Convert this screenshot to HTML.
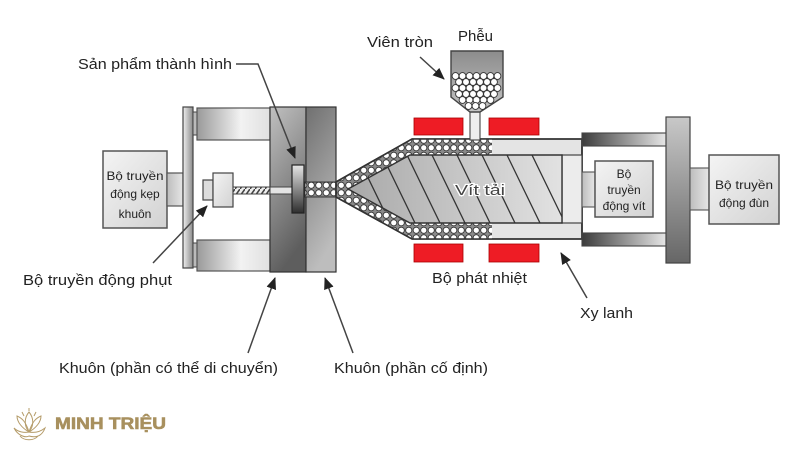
<!DOCTYPE html>
<html><head><meta charset="utf-8"><style>
html,body{margin:0;padding:0;background:#fff;}
svg{display:block;}
text{font-family:"Liberation Sans",Arial,sans-serif;fill:#222;}
</style></head><body>
<svg width="800" height="450" viewBox="0 0 800 450" xmlns="http://www.w3.org/2000/svg">
<defs>
<linearGradient id="box" x1="0" y1="0" x2="1" y2="1"><stop offset="0" stop-color="#f4f4f4"/><stop offset="1" stop-color="#d2d2d2"/></linearGradient>
<linearGradient id="conn" x1="0" y1="0" x2="1" y2="0"><stop offset="0" stop-color="#bdbdbd"/><stop offset="1" stop-color="#e6e6e6"/></linearGradient>
<linearGradient id="plateL" x1="0" y1="0" x2="1" y2="0"><stop offset="0" stop-color="#f0f0f0"/><stop offset="1" stop-color="#8a8a8a"/></linearGradient>
<linearGradient id="bar" x1="0" y1="0" x2="1" y2="0"><stop offset="0" stop-color="#9a9a9a"/><stop offset="0.6" stop-color="#f2f2f2"/><stop offset="1" stop-color="#e0e0e0"/></linearGradient>
<linearGradient id="moldM" x1="0" y1="0" x2="0.3" y2="1"><stop offset="0" stop-color="#c0c0c0"/><stop offset="1" stop-color="#5e5e5e"/></linearGradient>
<linearGradient id="moldF" x1="0" y1="0" x2="0.3" y2="1"><stop offset="0" stop-color="#707070"/><stop offset="1" stop-color="#bdbdbd"/></linearGradient>
<linearGradient id="prod" x1="0" y1="0" x2="0" y2="1"><stop offset="0" stop-color="#e6e6e6"/><stop offset="1" stop-color="#2e2e2e"/></linearGradient>
<linearGradient id="rod" x1="0" y1="0" x2="1" y2="0"><stop offset="0" stop-color="#3c3c3c"/><stop offset="1" stop-color="#e8e8e8"/></linearGradient>
<linearGradient id="plateR" x1="0" y1="0" x2="0" y2="1"><stop offset="0" stop-color="#c8c8c8"/><stop offset="1" stop-color="#666"/></linearGradient>
<linearGradient id="screw" x1="0" y1="0" x2="1" y2="0"><stop offset="0" stop-color="#a8a8a8"/><stop offset="1" stop-color="#e2e2e2"/></linearGradient>
<linearGradient id="hop" x1="0" y1="0" x2="0" y2="1"><stop offset="0" stop-color="#8c8c8c"/><stop offset="1" stop-color="#c4c4c4"/></linearGradient>
<pattern id="pel" width="7.5" height="7.5" patternUnits="userSpaceOnUse" x="0" y="1.5">
<rect width="7.5" height="7.5" fill="#8a8a8a"/>
<circle cx="3.75" cy="3.75" r="3.1" fill="#fff" stroke="#333" stroke-width="0.9"/>
</pattern>
<pattern id="thread" width="5" height="7" patternUnits="userSpaceOnUse">
<rect width="5" height="7" fill="#eee"/>
<line x1="0" y1="7" x2="5" y2="0" stroke="#444" stroke-width="1.6"/>
</pattern>
<marker id="ah" markerWidth="12" markerHeight="10" refX="11" refY="5" orient="auto" markerUnits="userSpaceOnUse">
<path d="M0,0 L12,5 L0,10 Z" fill="#222"/>
</marker>
<clipPath id="screwClip"><polygon points="348,189 410,155 562,155 562,223 410,223"/></clipPath>
</defs>

<!-- Left box -->
<rect x="103" y="151" width="64" height="77" fill="url(#box)" stroke="#555" stroke-width="1.5"/>
<text x="135" y="180" font-size="12" text-anchor="middle" textLength="57" lengthAdjust="spacingAndGlyphs">Bộ truyền</text>
<text x="135" y="198" font-size="12" text-anchor="middle">động kẹp</text>
<text x="135" y="218" font-size="12" text-anchor="middle">khuôn</text>
<rect x="167" y="173" width="16" height="33" fill="url(#conn)" stroke="#555" stroke-width="1.2"/>

<!-- Left plate & stubs -->
<rect x="183" y="107" width="10" height="161" fill="url(#plateL)" stroke="#444" stroke-width="1.2"/>
<rect x="193" y="112" width="4" height="23" fill="#bbb" stroke="#444" stroke-width="1"/>
<rect x="193" y="243" width="4" height="24" fill="#bbb" stroke="#444" stroke-width="1"/>
<rect x="197" y="108" width="73" height="32" fill="url(#bar)" stroke="#555" stroke-width="1.2"/>
<rect x="197" y="240" width="73" height="31" fill="url(#bar)" stroke="#555" stroke-width="1.2"/>

<!-- Ejector -->
<rect x="203" y="180" width="10" height="20" fill="#ddd" stroke="#444" stroke-width="1.2"/>
<rect x="213" y="173" width="20" height="34" fill="url(#box)" stroke="#444" stroke-width="1.2"/>
<rect x="233" y="187" width="37" height="7" fill="url(#thread)" stroke="#444" stroke-width="1"/>

<!-- Molds -->
<rect x="270" y="107" width="36" height="165" fill="url(#moldM)" stroke="#333" stroke-width="1.2"/>
<rect x="306" y="107" width="30" height="165" fill="url(#moldF)" stroke="#333" stroke-width="1.2"/>
<rect x="270" y="187" width="22" height="7" fill="#e4e4e4" stroke="#444" stroke-width="1"/>
<rect x="292" y="165" width="12" height="48" fill="url(#prod)" stroke="#222" stroke-width="1.2"/>
<rect x="305" y="182" width="32" height="15" fill="url(#pel)" stroke="#333" stroke-width="1"/>

<!-- Barrel -->
<polygon points="336,182 412,139 582,139 582,239 412,239 336,197" fill="#e4e4e4" stroke="#333" stroke-width="1.6"/>
<polygon points="336,182 412,139 492,139 492,239 412,239 336,197" fill="url(#pel)"/>
<polygon points="336,182 412,139 582,139 582,239 412,239 336,197" fill="none" stroke="#333" stroke-width="1.6"/>
<rect x="562" y="155" width="20" height="68" fill="#ececec" stroke="#444" stroke-width="1.2"/>
<polygon points="348,189 410,155 562,155 562,223 410,223" fill="url(#screw)" stroke="#333" stroke-width="1.4"/>
<g clip-path="url(#screwClip)" stroke="#333" stroke-width="1.3">
<line x1="332" y1="155" x2="365" y2="223"/>
<line x1="357" y1="155" x2="390" y2="223"/>
<line x1="382" y1="155" x2="415" y2="223"/>
<line x1="407" y1="155" x2="440" y2="223"/>
<line x1="432" y1="155" x2="465" y2="223"/>
<line x1="457" y1="155" x2="490" y2="223"/>
<line x1="482" y1="155" x2="515" y2="223"/>
<line x1="507" y1="155" x2="540" y2="223"/>
<line x1="532" y1="155" x2="565" y2="223"/>
</g>
<text x="480" y="195" font-size="15" text-anchor="middle" stroke="#fff" stroke-width="2.2" paint-order="stroke" style="fill:#444" textLength="50" lengthAdjust="spacingAndGlyphs">Vít tải</text>

<!-- Heaters -->
<rect x="414" y="118" width="49" height="17" fill="#ee1c25" stroke="#a00" stroke-width="0.8"/>
<rect x="489" y="118" width="50" height="17" fill="#ee1c25" stroke="#a00" stroke-width="0.8"/>
<rect x="414" y="244" width="49" height="18" fill="#ee1c25" stroke="#a00" stroke-width="0.8"/>
<rect x="489" y="244" width="50" height="18" fill="#ee1c25" stroke="#a00" stroke-width="0.8"/>

<!-- Hopper -->
<rect x="470" y="110" width="10" height="30" fill="#eee" stroke="#444" stroke-width="1.1"/>
<polygon points="451,51 503,51 503,97 480,112 470,112 451,97" fill="url(#hop)" stroke="#444" stroke-width="1.4"/>
<g fill="#fff" stroke="#333" stroke-width="0.9">
<circle cx="455.5" cy="76" r="3.4"/><circle cx="462.5" cy="76" r="3.4"/><circle cx="469.5" cy="76" r="3.4"/><circle cx="476.5" cy="76" r="3.4"/><circle cx="483.5" cy="76" r="3.4"/><circle cx="490.5" cy="76" r="3.4"/><circle cx="497.5" cy="76" r="3.4"/>
<circle cx="459" cy="82" r="3.4"/><circle cx="466" cy="82" r="3.4"/><circle cx="473" cy="82" r="3.4"/><circle cx="480" cy="82" r="3.4"/><circle cx="487" cy="82" r="3.4"/><circle cx="494" cy="82" r="3.4"/>
<circle cx="455.5" cy="88" r="3.4"/><circle cx="462.5" cy="88" r="3.4"/><circle cx="469.5" cy="88" r="3.4"/><circle cx="476.5" cy="88" r="3.4"/><circle cx="483.5" cy="88" r="3.4"/><circle cx="490.5" cy="88" r="3.4"/><circle cx="497.5" cy="88" r="3.4"/>
<circle cx="459" cy="94" r="3.4"/><circle cx="466" cy="94" r="3.4"/><circle cx="473" cy="94" r="3.4"/><circle cx="480" cy="94" r="3.4"/><circle cx="487" cy="94" r="3.4"/><circle cx="494" cy="94" r="3.4"/>
<circle cx="462.5" cy="100" r="3.4"/><circle cx="469.5" cy="100" r="3.4"/><circle cx="476.5" cy="100" r="3.4"/><circle cx="483.5" cy="100" r="3.4"/><circle cx="490.5" cy="100" r="3.4"/>
<circle cx="468.5" cy="106" r="3.4"/><circle cx="475.5" cy="106" r="3.4"/><circle cx="482.5" cy="106" r="3.4"/>
</g>

<!-- Right side -->
<rect x="582" y="133" width="85" height="13" fill="url(#rod)" stroke="#444" stroke-width="1.1"/>
<rect x="582" y="233" width="85" height="13" fill="url(#rod)" stroke="#444" stroke-width="1.1"/>
<rect x="582" y="172" width="13" height="35" fill="url(#conn)" stroke="#555" stroke-width="1.1"/>
<rect x="595" y="161" width="58" height="56" fill="url(#box)" stroke="#555" stroke-width="1.5"/>
<text x="624" y="178" font-size="12" text-anchor="middle">Bộ</text>
<text x="624" y="194" font-size="12" text-anchor="middle">truyền</text>
<text x="624" y="210" font-size="12" text-anchor="middle">động vít</text>
<rect x="666" y="117" width="24" height="146" fill="url(#plateR)" stroke="#444" stroke-width="1.2"/>
<rect x="690" y="168" width="19" height="42" fill="url(#conn)" stroke="#555" stroke-width="1.1"/>
<rect x="709" y="155" width="70" height="69" fill="url(#box)" stroke="#555" stroke-width="1.5"/>
<text x="744" y="189" font-size="12" text-anchor="middle" textLength="58" lengthAdjust="spacingAndGlyphs">Bộ truyền</text>
<text x="744" y="207" font-size="12" text-anchor="middle">động đùn</text>

<!-- Labels -->
<text x="78" y="69" font-size="15" textLength="154" lengthAdjust="spacingAndGlyphs">Sản phẩm thành hình</text>
<polyline points="236,64 258,64 295,158" fill="none" stroke="#444" stroke-width="1.5" marker-end="url(#ah)"/>
<text x="367" y="47" font-size="15" textLength="66" lengthAdjust="spacingAndGlyphs">Viên tròn</text>
<text x="458" y="41" font-size="15" textLength="35" lengthAdjust="spacingAndGlyphs">Phễu</text>
<line x1="420" y1="57" x2="444" y2="79" stroke="#444" stroke-width="1.5" marker-end="url(#ah)"/>
<text x="23" y="285" font-size="15" textLength="149" lengthAdjust="spacingAndGlyphs">Bộ truyền động phụt</text>
<line x1="153" y1="263" x2="207" y2="206" stroke="#444" stroke-width="1.5" marker-end="url(#ah)"/>
<text x="59" y="373" font-size="15" textLength="219" lengthAdjust="spacingAndGlyphs">Khuôn (phần có thể di chuyển)</text>
<line x1="248" y1="353" x2="275" y2="278" stroke="#444" stroke-width="1.5" marker-end="url(#ah)"/>
<text x="334" y="373" font-size="15" textLength="154" lengthAdjust="spacingAndGlyphs">Khuôn (phần cố định)</text>
<line x1="353" y1="353" x2="325" y2="278" stroke="#444" stroke-width="1.5" marker-end="url(#ah)"/>
<text x="432" y="283" font-size="15" textLength="95" lengthAdjust="spacingAndGlyphs">Bộ phát nhiệt</text>
<text x="580" y="318" font-size="15" textLength="53" lengthAdjust="spacingAndGlyphs">Xy lanh</text>
<line x1="587" y1="298" x2="561" y2="253" stroke="#444" stroke-width="1.5" marker-end="url(#ah)"/>

<!-- Logo -->
<g fill="none" stroke="#b59c6a" stroke-width="1">
<path d="M29,412 C24,418 24,426 29,432 C34,426 34,418 29,412 Z"/>
<path d="M29,432 C22,428 17,422 17,416 C22,418 26,422 29,432"/>
<path d="M29,432 C36,428 41,422 41,416 C36,418 32,422 29,432"/>
<path d="M14,428 C18,436 26,438 29,436 C36,438 42,436 45,428 C40,432 34,433 29,432 C24,433 18,432 14,428 Z"/>
<path d="M20,436 C24,441 34,441 38,436"/>
<path d="M22,412 L24,416 M36,412 L34,416 M29,408 L29,411"/>
</g>
<text x="55" y="429" font-size="17" font-weight="bold" stroke="#a8905e" stroke-width="0.6" style="fill:#a8905e" textLength="111" lengthAdjust="spacingAndGlyphs">MINH TRIỆU</text>
</svg>
</body></html>
